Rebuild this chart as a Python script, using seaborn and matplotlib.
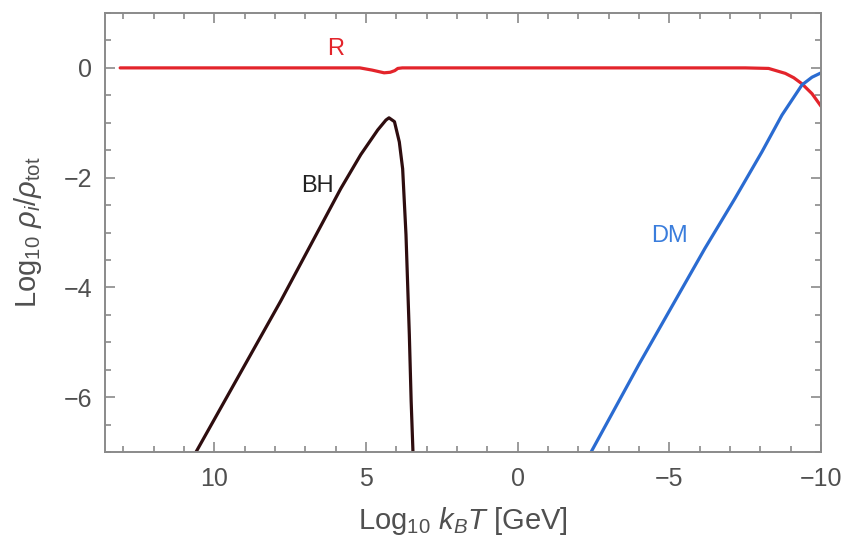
import matplotlib
matplotlib.use("Agg")
import matplotlib.pyplot as plt
import seaborn as sns
import pandas as pd
from matplotlib.ticker import MultipleLocator

# radiation
r_x = [13.1, 5.2, 4.8, 4.4, 4.2, 4.05, 3.95, 3.8, -7.5, -8.27, -8.82, -9.1, -9.37, -9.7, -10.0]
r_y = [0.0, 0.0, -0.04, -0.09, -0.08, -0.05, -0.01, 0.0, 0.0, -0.01, -0.10, -0.18, -0.29, -0.47, -0.70]

# black holes
bh_x = [10.6, 7.81, 5.83, 5.17, 4.61, 4.34, 4.24, 4.06, 3.90, 3.79, 3.68, 3.57, 3.51, 3.45]
bh_y = [-7.0, -4.25, -2.2, -1.58, -1.13, -0.95, -0.91, -0.98, -1.35, -1.84, -3.04, -4.86, -6.07, -7.0]

# dark matter
dm_x = [-2.42, -4.0, -6.17, -7.16, -8.05, -8.71, -9.37, -9.7, -10.0]
dm_y = [-7.0, -5.4, -3.29, -2.38, -1.53, -0.86, -0.31, -0.17, -0.09]

x_ticks = [10, 5, 0, -5, -10]
y_ticks = [0, -2, -4, -6]

red = "#e3242b"
blue = "#2a6bd1"
brown = "#2e0d0f"
gray = "#8a8a8a"
label_gray = "#505050"

sns.set_theme(style="ticks")
plt.rcParams["font.family"] = ["Liberation Sans", "DejaVu Sans"]
plt.rcParams["mathtext.fontset"] = "custom"
plt.rcParams["mathtext.rm"] = "Liberation Sans"
plt.rcParams["mathtext.it"] = "Liberation Sans:italic"

fig = plt.figure(figsize=(8.5, 5.42), dpi=100)
ax = fig.add_axes([0.1235, 0.166, 0.8425, 0.81])

r_df = pd.DataFrame({"x": r_x, "y": r_y})
bh_df = pd.DataFrame({"x": bh_x, "y": bh_y})
dm_df = pd.DataFrame({"x": dm_x, "y": dm_y})

sns.lineplot(data=r_df, x="x", y="y", sort=False, estimator=None, color=red, lw=2.3, ax=ax)
sns.lineplot(data=bh_df, x="x", y="y", sort=False, estimator=None, color=brown, lw=2.3, ax=ax)
sns.lineplot(data=dm_df, x="x", y="y", sort=False, estimator=None, color=blue, lw=2.3, ax=ax)

ax.text(6.0, 0.35, "R", color=red, fontsize=17, ha="center", va="center")
ax.text(6.6, -2.16, "BH", color="#222222", fontsize=17, ha="center", va="center")
ax.text(-5.0, -3.07, "DM", color="#3a7ddc", fontsize=17, ha="center", va="center")

ax.set_xlim(13.6, -10)
ax.set_ylim(-7, 1)
ax.set_xticks(x_ticks)
ax.set_yticks(y_ticks)
ax.set_xticklabels([str(t).replace("-", "\u2212") for t in x_ticks])
ax.set_yticklabels([str(t).replace("-", "\u2212") for t in y_ticks])
ax.xaxis.set_minor_locator(MultipleLocator(1))
ax.yaxis.set_minor_locator(MultipleLocator(0.5))
ax.tick_params(which="both", direction="in", top=True, right=True, color=gray,
               labelcolor=label_gray, labelsize=18, width=1.2)
ax.tick_params(axis="x", pad=11)
ax.tick_params(axis="y", pad=9)
ax.tick_params(which="major", length=7)
ax.tick_params(which="minor", length=4.5)
for s in ax.spines.values():
    s.set_color(gray)
    s.set_linewidth(1.4)

ax.set_xlabel(r"Log$_{10}$ $k_B T$ [GeV]", fontsize=21, color=label_gray, labelpad=10)
ax.set_ylabel(r"Log$_{10}$ $\rho_i/\rho_{\rm tot}$", fontsize=21, color=label_gray, labelpad=14)

fig.savefig("out.png", dpi=100)
plt.close(fig)
